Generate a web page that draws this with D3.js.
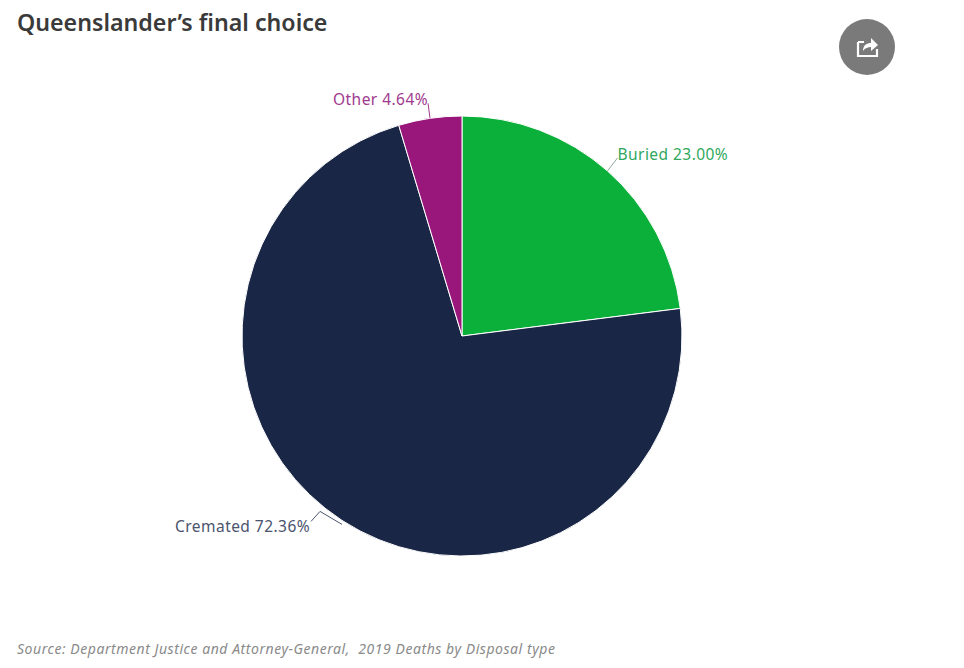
<!DOCTYPE html>
<meta charset="utf-8">
<style>
  html, body { margin: 0; padding: 0; background: #fff; }
  text { font-family: "Noto Sans", sans-serif; }
</style>
<script src="https://d3js.org/d3.v7.min.js"></script>

<div id="chart"></div>

<script>
    var categories = ["Buried", "Cremated", "Other"];
    var shares = [23.00, 72.36, 4.64];
    var sliceColors = ["#0bb03b", "#192645", "#99177a"];
    var labelColors = ["#2fa85c", "#4a546e", "#a03a8e"];

    var width = 964, height = 668;
    var cx = 462, cy = 336, radius = 220;

    var svg = d3.select("#chart").append("svg")
        .attr("width", width)
        .attr("height", height)
        .style("display", "block");

    svg.append("text").attr("x", 17).attr("y", 31)
        .text("Queenslander\u2019s final choice")
        .style("font-size", "23.2px").style("font-weight", 600).attr("fill", "#3a3a3a");

    var g = svg.append("g").attr("transform", "translate(" + cx + "," + cy + ")");

    var slices = d3.pie().sort(null)(shares);
    var arc = d3.arc().innerRadius(0).outerRadius(radius);

    g.selectAll("path.slice")
      .data(slices)
      .enter().append("path")
        .attr("class", "slice")
        .attr("d", arc)
        .attr("fill", function(d, i) { return sliceColors[i]; })
        .attr("stroke", "#ffffff")
        .attr("stroke-width", 1);

    function rim(d, r) {
      var a = (d.startAngle + d.endAngle) / 2;
      return [Math.sin(a) * r, -Math.cos(a) * r];
    }

    // label offset from the rim, per slice
    var labelDx = [10, -32, -2];
    var labelDy = [-13, 10, -15];

    var line = d3.line();
    g.selectAll("path.connector")
      .data(slices)
      .enter().append("path")
        .attr("class", "connector")
        .attr("fill", "none")
        .attr("stroke-width", 1)
        .attr("stroke", function(d, i) { return i == 1 ? "#4a546e" : (i == 0 ? "#8fa89a" : labelColors[i]); })
        .attr("d", function(d, i) {
          var p0 = rim(d, radius);
          var p2 = [p0[0] + labelDx[i], p0[1] + labelDy[i]];
          // cremated connector has an elbow
          if (i == 1) return line([[p0[0], p0[1] + 4], [p0[0] - 22, p0[1] - 9], [p0[0] - 31, p0[1] + 1]]);
          return line([p0, p2]);
        });

    g.selectAll("text.label")
      .data(slices)
      .enter().append("text")
        .attr("class", "label")
        .attr("x", function(d, i) { return rim(d, radius)[0] + labelDx[i]; })
        .attr("y", function(d, i) { return rim(d, radius)[1] + labelDy[i]; })
        .attr("dy", "0.1em")
        .attr("text-anchor", function(d, i) { return i == 0 ? "start" : "end"; })
        .attr("fill", function(d, i) { return labelColors[i]; })
        .style("font-size", "15.5px")
        .style("letter-spacing", "0.45px")
        .text(function(d, i) { return categories[i] + " " + shares[i].toFixed(2) + "%"; });

    // share button
    var btn = svg.append("g").attr("transform", "translate(867,47)");
    btn.append("circle").attr("r", 28).attr("fill", "#7a7a7a");
    btn.append("path")
      .attr("d", "M-9,-5 L-9,9 L10,9 L10,2 M-9,-5 L-3,-5")
      .attr("fill", "none").attr("stroke", "#ffffff").attr("stroke-width", 2.2);
    btn.append("path")
      .attr("d", "M-4,4 C-4,-2 0,-4 4,-4 L4,-9 L11,-2 L4,4 L4,0 C1,0 -2,1 -4,4 Z")
      .attr("fill", "#ffffff");

    svg.append("text").attr("x", 17).attr("y", 654)
        .text("Source: Department Justice and Attorney-General,  2019 Deaths by Disposal type")
        .style("font-size", "14px").style("font-style", "italic").style("letter-spacing", "0.55px")
        .style("white-space", "pre").attr("fill", "#8a8a8a");
</script>
